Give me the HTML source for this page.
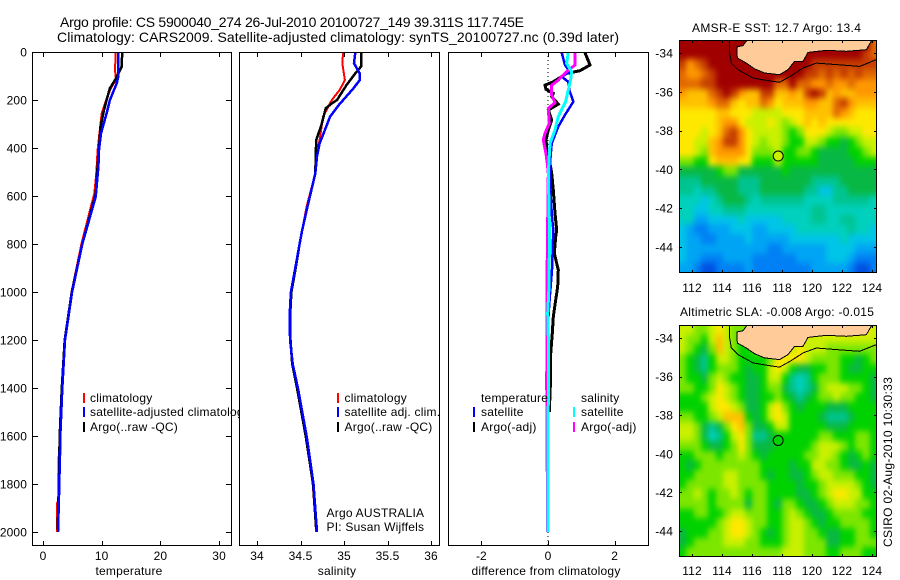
<!DOCTYPE html>
<html>
<head>
<meta charset="utf-8">
<title>Argo profile</title>
<style>
html,body{margin:0;padding:0;background:#fff;}
svg{display:block;}
text{font-family:"Liberation Sans",sans-serif;font-size:12px;fill:#000;letter-spacing:.12px;}
.leg{letter-spacing:.22px;}
</style>
</head>
<body>
<svg id="chart" xmlns="http://www.w3.org/2000/svg" width="900" height="580" viewBox="0 0 900 580">
<defs>
<filter id="soft" x="-10%" y="-10%" width="120%" height="120%" color-interpolation-filters="sRGB"><feGaussianBlur stdDeviation="2.6 3.2"/></filter>
<clipPath id="clip-sst"><rect x="679" y="40" width="198" height="233"/></clipPath>
<clipPath id="clip-sla"><rect x="679" y="325" width="198" height="232"/></clipPath>
</defs>
<rect x="0" y="0" width="900" height="580" fill="#fff"/>
<text x="60" y="27" style="font-size:14px;letter-spacing:0" textLength="464">Argo profile: CS 5900040_274 26-Jul-2010 20100727_149 39.311S 117.745E</text>
<text x="57" y="42" style="font-size:14px;letter-spacing:0" textLength="562">Climatology: CARS2009. Satellite-adjusted climatology: synTS_20100727.nc (0.39d later)</text>
<g id="root"></g>
</svg>
<script>
// ---------- tick labels ----------
const depthTicks = [0,200,400,600,800,1000,1200,1400,1600,1800,2000];
const tempTicks = [0,10,20,30];
const salTicks = [34,34.5,35,35.5,36];
const diffTicks = [-2,0,2];
const lonTicks = [112,114,116,118,120,122,124];
const sstLatTicks = [-34,-36,-38,-40,-42,-44];
const slaLatTicks = [-34,-36,-38,-40,-42,-44];

// ---------- temperature panel ----------
const tempClimDepth = [0,75,117,144,186,256,339,408,478,533,589,800,1000,1200,1400,1600,1680,1690,1870,1880,2000];
const tempClimVal = [12.38,12.27,12.44,11.7,10.96,10,9.6,9.31,9.14,8.97,8.74,6.55,4.85,3.7,3.25,3.0,2.95,2.6,2.6,2.4,2.4];
const tempSatDepth = [0,103,131,200,256,339,408,478,603,800,1000,1200,1400,1600,1800,2000];
const tempSatVal = [12.83,12.83,12.55,11.4,10.84,9.88,9.54,9.43,8.97,6.7,4.95,3.75,3.29,2.95,2.78,2.56];
const tempArgoDepth = [0,61,82,117,151,200,242,311,381,478,589,800,1000,1200,1400,1600,1800,1990];
const tempArgoVal = [13.5,13.4,13,12.27,11.4,10.84,10.4,9.8,9.6,9.3,9.0,6.7,4.9,3.7,3.2,2.85,2.7,2.5];

// ---------- salinity panel ----------
const salClimDepth = [3,47,117,158,200,269,367,436,506,644,742,800,900,1000,1100,1200,1300,1400,1600,1800,2000];
const salClimVal = [34.99,34.98,35.01,34.95,34.86,34.76,34.72,34.68,34.67,34.57,34.52,34.49,34.44,34.39,34.375,34.38,34.41,34.47,34.56,34.64,34.68];
const salSatDepth = [3,47,89,117,151,221,269,325,381,436,506,644,742,800,900,1000,1100,1200,1300,1400,1600,1800,2000];
const salSatVal = [35.13,35.115,35.18,35.18,35.11,34.94,34.84,34.78,34.72,34.69,34.67,34.58,34.52,34.49,34.44,34.39,34.375,34.38,34.41,34.47,34.57,34.65,34.69];
const salArgoDepth = [3,61,89,137,200,214,235,304,367,506,644,742,800,900,1000,1100,1200,1300,1400,1600,1800,1990];
const salArgoVal = [35.195,35.195,35.13,35.03,34.92,34.86,34.79,34.74,34.68,34.67,34.58,34.52,34.49,34.445,34.395,34.38,34.385,34.405,34.46,34.56,34.645,34.68];

// ---------- difference panel ----------
const diffTempArgoDepth = [3,54,78,89,124,138,156,172,186,217,242,283,325,367,422,464,506,575,672,742,769,839,908,978,1033,1103,1172,1256,1394,1500];
const diffTempArgoVal = [1.11,1.26,0.96,0.56,0.16,-0.09,-0.06,0.16,0.11,0.31,0.01,0.11,0.01,-0.06,-0.02,0.06,0.11,0.16,0.21,0.26,0.23,0.19,0.31,0.29,0.23,0.16,0.13,0.08,0.07,0.04];
const diffTempSatDepth = [3,54,82,103,124,158,207,262,311,381,464,533,672,742,908,1047,1186,1533,2000];
const diffTempSatVal = [0.41,0.51,0.66,0.41,0.61,0.64,0.76,0.51,0.31,0.11,0.06,0.06,0.11,0.16,0.12,0.04,-0.02,-0.04,0];
const diffSalArgoDepth = [3,54,82,117,138,179,211,235,297,339,367,422,464,506,839,1061,1186,1367,1603,2000];
const diffSalArgoVal = [0.81,0.81,0.56,0.31,0.11,0.11,0.21,0.01,0.04,-0.09,-0.14,-0.06,-0.02,0.01,-0.02,-0.03,-0.03,-0.04,-0.03,-0.01];
const diffSalSatDepth = [3,47,82,117,158,207,269,325,381,506,700,839,978,1089,1256,1603,2000];
const diffSalSatVal = [0.61,0.56,0.71,0.68,0.61,0.53,0.31,0.21,0.06,0.01,0.04,0.04,0.03,-0.01,0.02,0,0];

// ---------- maps: colour levels per 0.5-degree cell, north to south ----------
const sstGrid = [
[15,15,15,15,15,15,15,15,15,15,15,15,15,15,15,15,15,15,15,15,15,15,15,15,15,15,13],
[15,15,15,15,15,15,15,15,15,15,15,15,15,15,15,15,15,15,15,15,15,15,15,15,15,14,13],
[14,12,13,14,15,15,15,15,15,15,15,15,15,15,15,15,15,15,14,14,14,14,14,14,14,14,14],
[13,12,12,13,14,15,15,15,15,15,15,15,15,15,15,15,15,14,14,13,14,13,14,13,14,13,13],
[13,13,13,14,14,15,15,15,15,15,15,15,15,13,13,15,13,13,12,12,13,12,12,13,12,12,12],
[12,11,11,11,13,14,15,14,12,11,11,14,14,11,11,12,11,14,15,14,11,12,11,11,12,12,12],
[11,11,11,11,12,13,13,11,10,11,11,13,12,10,11,11,11,12,12,11,11,13,14,12,11,11,11],
[10,10,10,10,10,11,11,10,10,10,9,9,9,9,10,10,10,11,11,11,11,13,12,11,10,10,10],
[10,10,10,10,10,11,12,12,10,9,9,9,10,9,8,9,10,11,10,11,10,10,10,10,10,10,10],
[10,10,10,9,10,11,13,14,12,10,9,9,9,9,8,7,8,10,10,10,9,8,8,9,9,10,10],
[10,10,9,9,11,12,14,14,12,10,9,8,9,9,8,7,7,9,9,8,7,7,6,7,8,9,9],
[10,10,9,8,11,12,12,12,12,10,8,8,8,9,7,7,8,8,7,6,6,6,6,7,7,8,9],
[8,8,7,7,10,11,11,11,10,10,7,7,7,9,7,7,7,7,7,6,6,6,6,6,7,7,7],
[6,6,6,6,6,7,8,8,6,6,6,6,6,6,7,6,6,6,6,6,6,6,6,6,6,6,6],
[5,5,5,6,6,6,6,6,5,5,5,6,6,6,6,6,6,6,5,5,5,5,6,6,6,6,6],
[5,5,4,5,5,6,6,6,5,5,5,6,6,6,6,6,6,5,5,3,3,5,5,6,6,6,6],
[4,4,4,3,4,5,6,6,6,5,4,5,5,5,5,5,5,4,4,4,4,5,5,5,5,5,4],
[4,4,3,3,4,4,5,5,5,4,4,4,4,4,4,4,4,4,5,5,4,4,4,4,4,4,4],
[4,4,2,2,3,3,3,3,4,3,3,3,3,3,4,4,4,4,5,5,4,4,5,5,4,4,4],
[3,2,1,1,2,2,2,3,3,3,2,2,3,3,3,3,4,4,4,4,4,4,4,5,4,4,3],
[3,2,2,1,1,2,2,2,2,3,2,2,2,2,2,3,3,3,3,3,3,3,4,3,3,3,3],
[3,2,2,2,2,2,2,2,2,2,2,2,1,1,2,2,2,2,2,2,3,3,3,3,2,2,2],
[3,2,2,1,1,1,2,2,2,2,1,1,1,1,1,1,2,2,2,2,3,3,3,2,1,1,1],
[2,2,1,0,0,1,1,1,1,2,1,1,1,1,1,1,1,1,2,2,2,2,2,1,0,0,1]
];
const slaGrid = [
[9,9,8,8,9,10,9,8,8,8,10,10,10,10,10,10,10,10,10,10,10,10,10,10,10,10,9],
[9,8,8,7,9,11,9,8,7,7,9,9,9,9,9,9,9,9,9,9,9,9,9,9,9,9,9],
[9,8,7,6,8,11,9,8,7,7,8,10,10,9,9,9,10,9,9,9,8,8,8,8,8,8,8],
[8,7,6,5,7,9,9,8,7,7,7,7,8,10,10,10,10,9,8,8,8,8,7,7,6,7,8],
[8,7,6,5,7,8,8,8,7,6,7,7,9,10,9,7,6,6,7,7,8,8,7,6,6,7,7],
[8,7,7,6,8,9,8,7,7,6,6,7,9,9,7,5,4,5,7,8,8,8,7,7,7,7,6],
[8,8,7,7,8,10,9,8,7,6,6,7,8,8,6,5,4,5,6,8,9,9,9,8,8,7,6],
[7,7,7,8,9,10,9,8,7,6,6,7,7,8,7,6,5,6,7,8,8,9,8,8,7,7,6],
[7,7,7,7,9,10,10,9,8,6,6,7,9,10,8,7,6,7,7,7,6,6,6,7,7,7,7],
[8,8,7,7,8,9,11,11,11,7,6,7,9,10,9,7,7,7,7,6,5,5,5,6,7,7,7],
[9,9,8,6,5,6,8,10,11,8,6,6,7,9,9,7,7,7,7,7,6,6,6,7,7,7,7],
[9,9,8,6,4,5,7,9,10,8,5,5,6,7,7,7,7,7,7,8,8,7,7,7,8,8,7],
[8,8,8,7,6,6,7,8,10,8,6,6,6,7,7,7,7,7,8,9,9,9,8,7,8,8,7],
[7,7,8,8,8,7,8,8,9,8,7,6,7,7,7,7,7,8,8,9,9,8,7,6,7,8,7],
[7,6,7,8,8,8,8,8,8,8,8,7,7,7,7,6,7,7,9,9,8,8,7,6,6,7,6],
[7,7,8,8,8,8,9,9,8,8,8,7,6,7,7,6,6,7,8,9,9,8,8,8,7,7,6],
[7,8,8,8,8,8,9,9,8,8,8,8,7,7,7,7,6,7,7,8,9,9,9,9,8,7,6],
[8,8,9,8,7,8,8,9,8,7,8,8,7,7,7,7,6,6,7,8,9,10,10,9,9,7,7],
[8,8,8,8,7,8,8,8,8,6,8,8,7,6,8,8,7,6,6,7,8,9,9,9,8,8,7],
[7,7,8,8,7,7,8,9,9,8,8,8,7,7,8,9,8,7,6,6,7,8,8,8,8,7,7],
[7,7,7,7,7,8,9,10,10,9,8,8,7,7,8,9,9,8,7,6,7,7,8,8,8,8,7],
[6,7,7,7,8,8,9,10,10,9,8,7,6,7,8,9,9,8,8,7,6,6,7,7,8,8,7],
[6,7,8,8,8,8,9,9,9,8,8,7,7,7,8,9,9,8,8,8,6,6,7,7,8,8,8],
[7,8,8,8,8,8,8,8,8,8,8,8,8,8,9,9,9,8,8,8,7,7,8,8,8,7,7]
];
const coastLon = [115.67,115.4,115.0,115.02,115.62,116.18,116.84,117.84,118.4,118.84,119.4,119.73,120.96,122.29,123.62,124];
const coastLat = [-33.33,-33.62,-33.69,-34.26,-34.52,-34.82,-35.03,-35.12,-34.86,-34.43,-34.43,-33.97,-33.86,-33.91,-33.83,-33.33];
const contourLon = [114.51,114.51,114.62,115.07,116.07,116.96,117.84,118.62,119.4,120.29,121.62,123.18,124.29];
const contourLat = [-33.33,-34,-34.52,-34.86,-35.29,-35.41,-35.51,-35.17,-34.77,-34.52,-34.6,-34.69,-34.34];
const floatLon = 117.745;
const floatLat = -39.311;
const sstFloatLevel = 9;
const slaFloatLevel = 7;

const palette = ['#0050e0','#0080f4','#00a4f4','#00c4e8','#00d0bc','#00c490','#08b844','#00d200','#7ce600','#c8f000','#ffe800','#ffc000','#ff9800','#e06800','#c43c00','#a00000'];

// ---------- scales ----------
const depthY = p => 52 + p * 0.24;
const tempX = v => 43 + v * 5.87;
const salX = v => 257 + (v - 34) * 87;
const diffX = v => 548 + v * 33.3;
const lonX = lon => 692 + (lon - 112) * 15;
const sstLatY = lat => 53 + (-34 - lat) * 19.4;
const slaLatY = lat => 338 + (-34 - lat) * 19.3;

const NS = 'http://www.w3.org/2000/svg';
const root = document.getElementById('root');
function mk(tag, attrs, parent, txt) {
  const e = document.createElementNS(NS, tag);
  for (const k in attrs) e.setAttribute(k, attrs[k]);
  if (txt !== undefined) e.textContent = txt;
  (parent || root).appendChild(e);
  return e;
}
function tickLine(x1, y1, x2, y2, parent) {
  const el = mk('line', {x1, y1, x2, y2, stroke: '#000', 'stroke-width': 1, 'shape-rendering': 'crispEdges'}, parent);
  
  
  return el;
}
function tickLabel(x, y, s, anchor, parent) {
  const el = mk('text', {x, y, 'text-anchor': anchor}, parent, s);
  
  
  return el;
}
function drawProfile(depths, vals, xf, color, width, name) {
  const pts = depths.map((d, i) => xf(vals[i]).toFixed(1) + ',' + depthY(d).toFixed(1)).join(' ');
  const el = mk('polyline', {points: pts, fill: 'none', stroke: color, 'stroke-width': width, 'shape-rendering': 'crispEdges'});
  
  
}
function legendEntry(tx, ty, color, textX, label, name) {
  const bar = mk('rect', {x: tx, y: ty, width: 2, height: 10, fill: color, 'shape-rendering': 'crispEdges'});
  
  
  const t = mk('text', {x: textX, y: ty + 9, 'class': 'leg'}, root, label);
  
  
}
function panelBack(x, w, name) {
  const r = mk('rect', {x: x, y: 52, width: w, height: 493, fill: '#fff'});
  
  
}
function panelFrame(x, w, name, ticks, xf, title, cx, ySide) {
  const r = mk('rect', {x: x + 0.5, y: 52.5, width: w, height: 493, fill: 'none', stroke: '#000', 'stroke-width': 1, 'shape-rendering': 'crispEdges'});
  
  
  ticks.forEach(t => {
    const px = Math.round(xf(t)) + 0.5;
    tickLine(px, 53, px, 57);
    tickLine(px, 541, px, 545);
    tickLabel(xf(t), 560, String(t), 'middle');
  });
  const at = mk('text', {x: cx, y: 575, 'text-anchor': 'middle', 'class': 'leg'}, root, title);
  
  
  if (ySide) {
    depthTicks.forEach(d => {
      const py = Math.round(depthY(d)) + 0.5;
      tickLine(33, py, 38, py);
      tickLine(226, py, 231, py);
      tickLabel(27, depthY(d) + 4.5, String(d), 'end');
    });
  }
}

// ---------- temperature ----------
panelBack(32, 199, 'temperature-panel');
drawProfile(tempClimDepth, tempClimVal, tempX, '#ff0000', 2, 'temperature-climatology-line');
drawProfile(tempArgoDepth, tempArgoVal, tempX, '#000000', 2.5, 'temperature-argo-line');
drawProfile(tempSatDepth, tempSatVal, tempX, '#0000ff', 2.5, 'temperature-satellite-line');
legendEntry(83, 393, '#ff0000', 90, 'climatology', 'legend-climatology');
legendEntry(83, 407, '#0000ff', 90, 'satellite-adjusted climatology', 'legend-satellite-adjusted');
legendEntry(83, 422, '#000000', 90, 'Argo(..raw -QC)', 'legend-argo');
panelFrame(32, 199, 'temperature-panel', tempTicks, tempX, 'temperature', 129, true);

// ---------- salinity ----------
panelBack(239.5, 199.5, 'salinity-panel');
drawProfile(salClimDepth, salClimVal, salX, '#ff0000', 2, 'salinity-climatology-line');
drawProfile(salArgoDepth, salArgoVal, salX, '#000000', 2.5, 'salinity-argo-line');
drawProfile(salSatDepth, salSatVal, salX, '#0000ff', 2.5, 'salinity-satellite-line');
legendEntry(337, 393, '#ff0000', 344.5, 'climatology', 'legend-sal-climatology');
legendEntry(337, 407, '#0000ff', 344.5, 'satellite adj. clim.', 'legend-sal-satellite');
legendEntry(337, 422, '#000000', 344.5, 'Argo(..raw -QC)', 'legend-sal-argo');
const ag = mk('text', {x: 326.5, y: 517, 'class': 'leg'}, root, 'Argo AUSTRALIA');


const pi = mk('text', {x: 326.5, y: 531, 'class': 'leg'}, root, 'PI: Susan Wijffels');


panelFrame(239, 200, 'salinity-panel', salTicks, salX, 'salinity', 337, false);

// ---------- difference ----------
panelBack(448, 200, 'difference-panel');
const zeroLine = mk('line', {x1: diffX(0), y1: 52, x2: diffX(0), y2: 545, stroke: '#000', 'stroke-width': 1, 'stroke-dasharray': '1 3', 'shape-rendering': 'crispEdges'});


drawProfile(diffTempArgoDepth, diffTempArgoVal, diffX, '#000000', 3, 'diff-temperature-argo-line');
drawProfile(diffTempSatDepth, diffTempSatVal, diffX, '#0000ff', 2.5, 'diff-temperature-satellite-line');
drawProfile(diffSalArgoDepth, diffSalArgoVal, diffX, '#ff00ff', 3, 'diff-salinity-argo-line');
drawProfile(diffSalSatDepth, diffSalSatVal, diffX, '#00ffff', 3, 'diff-salinity-satellite-line');
const lt = mk('text', {x: 481, y: 402, 'class': 'leg'}, root, 'temperature');


const ls = mk('text', {x: 581, y: 402, 'class': 'leg'}, root, 'salinity');


legendEntry(473, 407, '#0000ff', 481, 'satellite', 'legend-diff-temp-satellite');
legendEntry(473, 422, '#000000', 481, 'Argo(-adj)', 'legend-diff-temp-argo');
legendEntry(573, 407, '#00ffff', 581, 'satellite', 'legend-diff-sal-satellite');
legendEntry(573, 422, '#ff00ff', 581, 'Argo(-adj)', 'legend-diff-sal-argo');
panelFrame(448, 200, 'difference-panel', diffTicks, diffX, 'difference from climatology', 546, false);

// ---------- maps ----------
function drawMap(name, grid, top, bottom, latY, latTicks, labelY, titleText, titleX, titleY, titleLen, floatLevel, clipId) {
  const left = 679, right = 877;
  const cols = grid[0].length, rows = grid.length;
  const wrap = mk('g', {'clip-path': 'url(#' + clipId + ')'});
  
  
  const g = mk('g', {filter: 'url(#soft)'}, wrap);
  
  
  grid.forEach((row, j) => {
    const y0 = Math.round(top + (bottom - top) * j / rows) - (j === 0 ? 14 : 0);
    const y1 = Math.round(top + (bottom - top) * (j + 1) / rows) + (j === rows - 1 ? 14 : 0);
    row.forEach((v, i) => {
      const x0 = Math.round(left + (right - left) * i / cols) - (i === 0 ? 14 : 0);
      const x1 = Math.round(left + (right - left) * (i + 1) / cols) + (i === cols - 1 ? 14 : 0);
      const level = Math.max(0, Math.min(palette.length - 1, Math.round(v)));
      const c = mk('rect', {x: x0, y: y0, width: x1 - x0, height: y1 - y0, fill: palette[level], 'shape-rendering': 'crispEdges'}, g);
      
      
    });
  });
  const land = mk('polygon', {points: coastLon.map((l, i) => lonX(l).toFixed(1) + ',' + latY(coastLat[i]).toFixed(1)).join(' '), fill: '#ffcc99', stroke: '#000', 'stroke-width': 1, 'shape-rendering': 'crispEdges'}, wrap);
  
  
  const cont = mk('polyline', {points: contourLon.map((l, i) => lonX(l).toFixed(1) + ',' + latY(contourLat[i]).toFixed(1)).join(' '), fill: 'none', stroke: '#000', 'stroke-width': 1, 'shape-rendering': 'crispEdges'}, wrap);
  
  
  const dot = mk('circle', {cx: lonX(floatLon), cy: latY(floatLat), r: 5, fill: palette[floatLevel], stroke: '#000', 'stroke-width': 1});
  
  
  const fr = mk('rect', {x: left + 0.5, y: top + 0.5, width: right - left - 1, height: bottom - top - 1, fill: 'none', stroke: '#000', 'stroke-width': 1, 'shape-rendering': 'crispEdges'});
  
  
  lonTicks.forEach(t => {
    const px = Math.round(lonX(t)) + 0.5;
    tickLine(px, top, px, top + 3);
    tickLine(px, bottom - 3, px, bottom);
    tickLabel(lonX(t), labelY, String(t), 'middle');
  });
  latTicks.forEach(t => {
    const py = Math.round(latY(t)) + 0.5;
    tickLine(left, py, left + 3, py);
    tickLine(right - 3, py, right, py);
    tickLabel(673, latY(t) + 4.5, String(t), 'end');
  });
  const tt = mk('text', {x: titleX, y: titleY, textLength: titleLen}, root, titleText);
  
  
}
drawMap('sst-map', sstGrid, 40, 273, sstLatY, sstLatTicks, 292, 'AMSR-E SST: 12.7 Argo: 13.4', 692, 32, 169, sstFloatLevel, 'clip-sst');
drawMap('sla-map', slaGrid, 325, 557, slaLatY, slaLatTicks, 575, 'Altimetric SLA: -0.008 Argo: -0.015', 680, 316, 194, slaFloatLevel, 'clip-sla');

const stamp = mk('text', {x: 0, y: 0, transform: 'translate(892,547) rotate(-90)', textLength: 170}, root, 'CSIRO 02-Aug-2010 10:30:33');


</script>
</body>
</html>
